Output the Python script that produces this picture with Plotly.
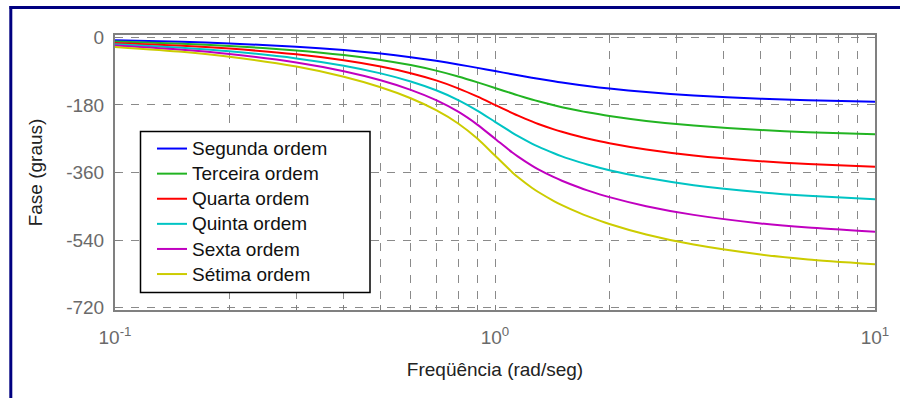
import plotly.graph_objects as go

# Frequency points (rad/s)
freq = [0.1, 0.15, 0.2, 0.3, 0.4, 0.5, 0.6, 0.7, 0.8, 0.9, 1.0, 1.111, 1.15, 1.25, 1.3,
        1.429, 1.5, 1.667, 1.75, 2.0, 2.5, 3.333, 5.0, 6.667, 10.0]

# Phase (degrees)
segunda = [-8.1, -12.2, -16.4, -25.0, -34.0, -43.3, -53.0, -62.7, -72.3, -81.5, -90.0, -98.5,
           -101.2, -107.7, -110.6, -117.3, -120.5, -127.0, -129.8, -136.7, -146.0, -155.0,
           -163.6, -167.8, -171.9]
terceira = [-11.5, -17.3, -23.1, -35.0, -47.3, -60.3, -74.1, -88.9, -104.4, -120.1, -135.0,
            -149.9, -154.7, -165.6, -170.4, -181.1, -186.1, -195.9, -199.9, -209.7, -222.7,
            -235.1, -246.9, -252.7, -258.5]
quarta = [-15.0, -22.5, -30.1, -45.5, -61.4, -78.0, -95.7, -114.9, -135.9, -158.1, -180.0,
          -201.9, -208.8, -224.1, -230.8, -245.1, -251.7, -264.4, -269.5, -282.0, -298.6,
          -314.5, -329.9, -337.5, -345.0]
quinta = [-18.6, -27.9, -37.3, -56.3, -75.8, -96.1, -117.7, -141.1, -167.1, -195.7, -225.0,
          -254.3, -263.2, -282.9, -291.3, -308.9, -317.0, -332.3, -338.7, -353.9, -374.2,
          -393.7, -412.7, -422.1, -431.4]
sexta = [-22.2, -33.3, -44.5, -67.2, -90.4, -114.5, -140.0, -167.5, -198.2, -233.1, -270.0,
         -306.9, -317.9, -341.8, -351.7, -372.5, -382.0, -400.1, -407.5, -425.5, -449.6,
         -472.8, -495.5, -506.7, -517.8]
setima = [-25.8, -38.7, -51.8, -78.1, -105.1, -133.1, -162.4, -194.1, -229.5, -270.3, -315.0,
          -359.7, -372.7, -400.5, -411.9, -435.9, -446.8, -467.6, -476.1, -497.0, -524.9,
          -551.9, -578.3, -591.3, -604.2]

series_names = ["Segunda ordem", "Terceira ordem", "Quarta ordem",
                "Quinta ordem", "Sexta ordem", "Sétima ordem"]
series_values = [segunda, terceira, quarta, quinta, sexta, setima]
series_colors = ["#0000ff", "#22b422", "#ff0000", "#00c4c4", "#c000c0", "#cccc00"]

x_tickvals = [0.1, 1, 10]
x_ticktext = ["10<sup>-1</sup>", "10<sup>0</sup>", "10<sup>1</sup>"]
x_minor = [0.2, 0.3, 0.4, 0.5, 0.6, 0.7, 0.8, 0.9, 2, 3, 4, 5, 6, 7, 8, 9]
y_tickvals = [-720, -540, -360, -180, 0]
y_ticktext = ["-720", "-540", "-360", "-180", "0"]

FONT = "Liberation Sans, Arial, sans-serif"
GRID = "#8a8a8a"

fig = go.Figure()
for name, vals, col in zip(series_names, series_values, series_colors):
    fig.add_trace(go.Scatter(x=freq, y=vals, mode="lines",
                             name='<span style="font-size:19px">%s</span>' % name,
                             line=dict(color=col, width=2, shape="spline", smoothing=0.6)))

# plot area geometry in pixels
L, R, T, B = 115, 875, 35, 310
W, H = R - L, B - T


def px(xp):
    return (xp - L) / W


def py(yp):
    return (B - yp) / H


shapes = [
    # legend box
    dict(type="rect", xref="paper", yref="paper",
         x0=px(140.5), x1=px(370), y0=py(292.5), y1=py(131.5),
         line=dict(color="#000000", width=1.5), fillcolor="#ffffff", layer="above"),
    # navy outer frame
    dict(type="line", xref="paper", yref="paper",
         x0=px(9.5), x1=px(905), y0=py(7.5), y1=py(7.5),
         line=dict(color="#000080", width=3)),
    dict(type="line", xref="paper", yref="paper",
         x0=px(10.8), x1=px(10.8), y0=py(6), y1=py(405),
         line=dict(color="#000080", width=3)),
]

axis_common = dict(showline=True, linecolor="#808080", linewidth=2, mirror="allticks",
                   ticks="inside", ticklen=5, tickcolor="#808080", tickwidth=1,
                   showgrid=True, gridcolor=GRID, gridwidth=1, griddash="8px,8px",
                   zeroline=False,
                   tickfont=dict(family=FONT, size=19, color="#6a6a6a"))

fig.update_layout(
    width=900, height=398,
    margin=dict(l=L, r=900 - R, t=T, b=398 - B),
    paper_bgcolor="#ffffff", plot_bgcolor="#ffffff",
    showlegend=True,
    legend=dict(x=px(152), y=py(131), xanchor="left", yanchor="top",
                bgcolor="rgba(0,0,0,0)", borderwidth=0,
                font=dict(family=FONT, size=17, color="#111111"),
                itemwidth=30, tracegroupgap=0),
    shapes=shapes,
    xaxis=dict(type="log", range=[-1, 1], tickmode="array", tickvals=x_tickvals,
               ticktext=x_ticktext, ticklabelstandoff=9,
               minor=dict(tickmode="array", tickvals=x_minor, ticks="inside", ticklen=5,
                          tickcolor="#808080", showgrid=True, gridcolor=GRID,
                          griddash="8px,8px", gridwidth=1),
               title=dict(text="Freqüência (rad/seg)", standoff=16,
                          font=dict(family=FONT, size=19, color="#222222")),
               **axis_common),
    yaxis=dict(range=[-726, 6], tickmode="array", tickvals=y_tickvals, ticktext=y_ticktext,
               ticklabelstandoff=5,
               title=dict(text="Fase (graus)", standoff=19,
                          font=dict(family=FONT, size=19, color="#222222")),
               **axis_common),
)

fig.write_html("out.html")
